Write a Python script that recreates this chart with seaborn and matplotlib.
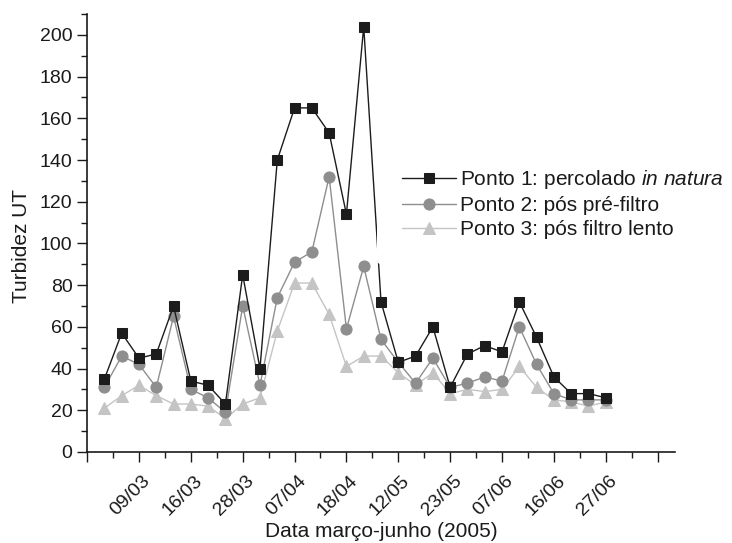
import matplotlib
matplotlib.use("Agg")
import matplotlib.pyplot as plt
from matplotlib.transforms import ScaledTranslation
import seaborn as sns
import numpy as np
import pandas as pd

# turbidity readings, one per sampling date (30 dates)
ponto1 = [35, 57, 45, 47, 70, 34, 32, 23, 85, 40,
          140, 165, 165, 153, 114, 204, 72, 43, 46, 60,
          31, 47, 51, 48, 72, 55, 36, 28, 28, 26]
ponto2 = [31, 46, 42, 31, 65, 30, 26, 19, 70, 32,
          74, 91, 96, 132, 59, 89, 54, 43, 33, 45,
          31, 33, 36, 34, 60, 42, 28, 25, 25, 25]
ponto3 = [21, 27, 32, 27, 23, 23, 22, 16, 23, 26,
          58, 81, 81, 66, 41, 46, 46, 38, 32, 38,
          28, 30, 29, 30, 41, 31, 25, 24, 22, 24]

# every third sample gets a date label
tick_labels = ["", "09/03", "16/03", "28/03", "07/04", "18/04", "12/05",
               "23/05", "07/06", "16/06", "27/06", ""]

sns.set_style("ticks")
plt.rcParams["font.family"] = ["Liberation Sans", "DejaVu Sans"]
plt.rcParams["mathtext.fontset"] = "custom"
plt.rcParams["mathtext.it"] = "Liberation Sans:italic"
plt.rcParams["mathtext.rm"] = "Liberation Sans"

idx = np.arange(len(ponto1))
df = pd.DataFrame({"idx": idx, "p1": ponto1, "p2": ponto2, "p3": ponto3})

fig = plt.figure(figsize=(7.32, 5.43), dpi=100)
ax = fig.add_axes([0.119, 0.1676, 0.803, 0.8065])

sns.lineplot(data=df, x="idx", y="p3", ax=ax, color="#c4c4c4", marker="^",
             markersize=9, markeredgecolor="#c4c4c4", linewidth=1,
             label="Ponto 3: pós filtro lento")
sns.lineplot(data=df, x="idx", y="p2", ax=ax, color="#8e8e8e", marker="o",
             markersize=8, markeredgecolor="#8e8e8e", linewidth=1,
             label="Ponto 2: pós pré-filtro")
sns.lineplot(data=df, x="idx", y="p1", ax=ax, color="#1c1c1c", marker="s",
             markersize=7.5, markeredgecolor="#1c1c1c", linewidth=1,
             label=r"Ponto 1: percolado $\it{in\ natura}$")

ax.set_xlim(-1, 33)
ax.set_ylim(0, 210)
ax.set_xticks(np.arange(-1, 33.5, 3))
ax.set_xticklabels(tick_labels, rotation=45, ha="right", va="top",
                   rotation_mode="anchor")
ax.set_xticks(np.arange(-1, 33.5, 1.5), minor=True)
ax.set_yticks(np.arange(0, 201, 20))
ax.set_yticks(np.arange(0, 211, 10), minor=True)
ax.tick_params(axis="both", which="major", length=7, width=1, labelsize=14,
               direction="out", color="#1a1a1a", labelcolor="#1a1a1a")
ax.tick_params(axis="both", which="minor", length=4, width=1,
               direction="out", color="#1a1a1a")
# nudge the slanted date labels down and right
shift = ScaledTranslation(3 / 100, -6 / 100, fig.dpi_scale_trans)
for lab in ax.get_xticklabels():
    lab.set_transform(lab.get_transform() + shift)
for s in ["left", "bottom"]:
    ax.spines[s].set_color("#1a1a1a")
    ax.spines[s].set_linewidth(1.2)
sns.despine(ax=ax)

ax.set_xlabel("Data março-junho (2005)", fontsize=15, color="#1a1a1a")
ax.xaxis.set_label_coords(0.5, -0.160)
ax.set_ylabel("Turbidez UT", fontsize=15, color="#1a1a1a")
ax.yaxis.set_label_coords(-0.095, 0.47)

h, l = ax.get_legend_handles_labels()
leg = ax.legend(h[::-1], l[::-1], loc="upper left",
                bbox_to_anchor=(377 / 732, 1 - 143 / 543),
                bbox_transform=fig.transFigure,
                fontsize=15, frameon=True, facecolor="white", edgecolor="none",
                framealpha=1, handlelength=2.6, handletextpad=0.2,
                labelspacing=0.25, borderpad=1.2, borderaxespad=0)
for t in leg.get_texts():
    t.set_color("#1a1a1a")

fig.savefig("out.png", dpi=100)
